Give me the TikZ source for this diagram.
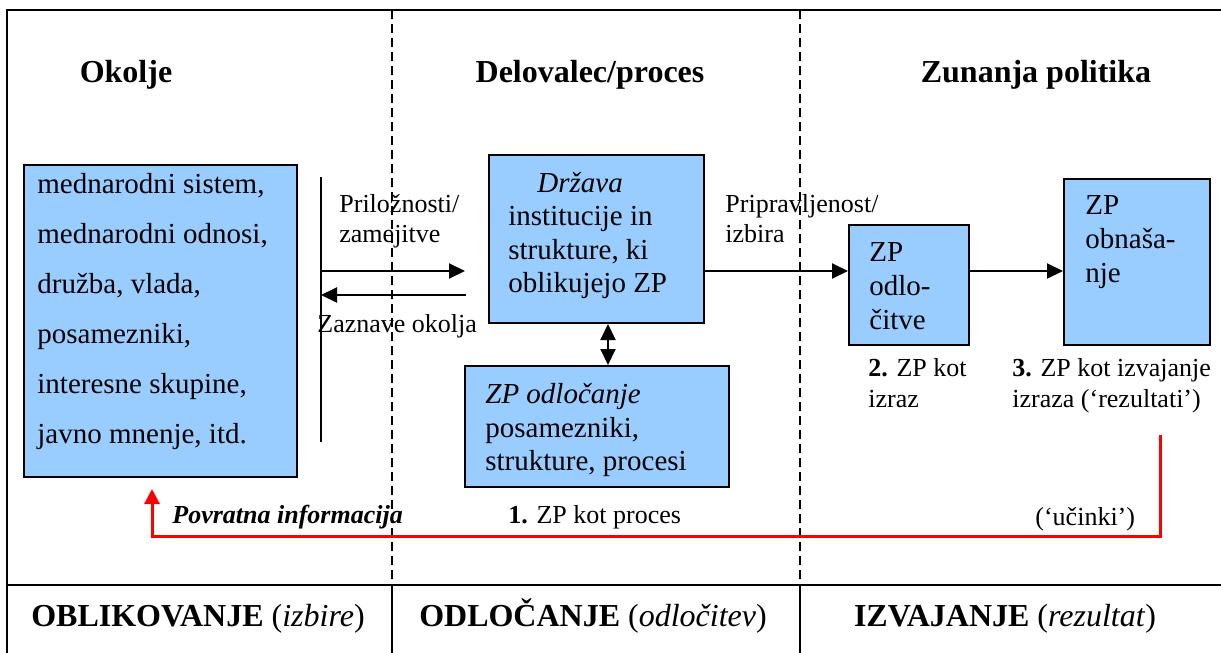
\documentclass[tikz,border=0pt]{standalone}
\usepackage{fontspec}
\setmainfont{Liberation Serif}
\usetikzlibrary{arrows.meta}
\definecolor{boxblue}{HTML}{99CCFF}
\begin{document}
\begin{tikzpicture}[x=0.5pt, y=-0.5pt, >={Triangle[length=8pt,width=7.5pt]},
		box/.style={draw, line width=1pt, fill=boxblue, anchor=north west, inner sep=0},
		txt/.style={anchor=north west, inner sep=0, align=left},
		boxtxt/.style={txt, font=\fontsize{14.5}{17}\selectfont},
		lbl/.style={txt, font=\fontsize{13}{15}\selectfont},
		head/.style={anchor=base, inner sep=0, font=\fontsize{16}{19}\selectfont\bfseries},
		foot/.style={anchor=base, inner sep=0, font=\fontsize{16}{19}\selectfont},
		arr/.style={->, line width=1pt},
		sep/.style={line width=1pt, dash pattern=on 4.5pt off 2.5pt},
		back/.style={-{Triangle[length=7.5pt,width=7.5pt]}, red, line width=1.5pt}]
	\useasboundingbox (0,0) rectangle (1221,653);
	\draw[line width=1pt] (1221,10)--(7,10)--(7,653);
	\draw[line width=1pt] (7,585)--(1221,585);
	\foreach \x in {392,800} {
		\draw[sep] (\x,10)--(\x,585);
		\draw[line width=1pt] (\x,585)--(\x,653);
	}
	\node[head] (hokolje) at (126,83) {Okolje};
	\node[head] (hdel) at (590,83) {Delovalec/proces};
	\node[head] (hzp) at (1036,83) {Zunanja politika};
	\node[box, minimum width=136.5pt, minimum height=156pt] (env) at (23,164) {};
	\node[box, minimum width=107.5pt, minimum height=84pt] (drz) at (488,154) {};
	\node[box, minimum width=132pt, minimum height=60.5pt] (proc) at (464,365) {};
	\node[box, minimum width=60pt, minimum height=60pt] (dec) at (848,224) {};
	\node[box, minimum width=73pt, minimum height=83pt] (beh) at (1063,178) {};
	\node[boxtxt, font=\fontsize{14.5}{25}\selectfont] (envtxt) at (37,173) {mednarodni sistem,\\mednarodni odnosi,\\družba, vlada,\\posamezniki,\\interesne skupine,\\javno mnenje, itd.};
	\node[boxtxt, font=\fontsize{14.5}{16.7}\selectfont] (drztxt) at (508,172) {\hspace*{14.5pt}\textit{Država}\\institucije in\\strukture, ki\\oblikujejo ZP};
	\node[boxtxt, font=\fontsize{14.5}{16.75}\selectfont] (proctxt) at (485,383) {\textit{ZP odločanje}\\posamezniki,\\strukture, procesi};
	\node[boxtxt] (dectxt) at (869,242) {ZP\\odlo-\\čitve};
	\node[boxtxt] (behtxt) at (1085,195) {ZP\\obnaša-\\nje};
	\node[lbl] (opp) at (339,194) {Priložnosti/\\zamejitve};
	\node[lbl, anchor=base west] (perc) at (317,332) {Zaznave okolja};
	\node[lbl] (ready) at (725,194) {Pripravljenost/\\izbira};
	\node[lbl, font=\fontsize{13}{15.5}\selectfont] (l2) at (868,358) {\textbf{2.} ZP kot\\izraz};
	\node[lbl, font=\fontsize{13}{15.5}\selectfont] (l3) at (1012,358) {\textbf{3.} ZP kot izvajanje\\izraza (‘rezultati’)};
	\node[lbl, anchor=base west] (l1) at (508,523) {\textbf{1.} ZP kot proces};
	\node[lbl, anchor=base west] (fb) at (172,523) {\textbf{\textit{Povratna informacija}}};
	\node[lbl, anchor=base west] (eff) at (1035,525) {(‘učinki’)};
	\node[foot] (f1) at (198,626) {\textbf{OBLIKOVANJE} (\textit{izbire})};
	\node[foot] (f2) at (593,626) {\textbf{ODLOČANJE} (\textit{odločitev})};
	\node[foot] (f3) at (1005,626) {\textbf{IZVAJANJE} (\textit{rezultat})};
	\coordinate (bartop) at (321,177);
	\coordinate (barbot) at (321,442);
	\coordinate (oppend) at (465,271);
	\coordinate (percend) at (466,295);
	\coordinate (flow) at (0,271);
	\coordinate (link) at (608,0);
	\coordinate (fbstart) at (1160,435);
	\coordinate (fbbase) at (0,536);
	\coordinate (fbend) at (152,489);
	\draw[line width=1pt] (bartop)--(barbot);
	\draw[arr] (bartop |- oppend)--(oppend);
	\draw[arr] (percend)--(bartop |- percend);
	\draw[arr] (drz.east |- flow)--(dec.west |- flow);
	\draw[arr] (dec.east |- flow)--(beh.west |- flow);
	\draw[arr, <->] (drz.south -| link)--(proc.north -| link);
	\draw[back] (fbstart)--(fbstart |- fbbase)--(fbend |- fbbase)--(fbend);
\end{tikzpicture}
\end{document}
